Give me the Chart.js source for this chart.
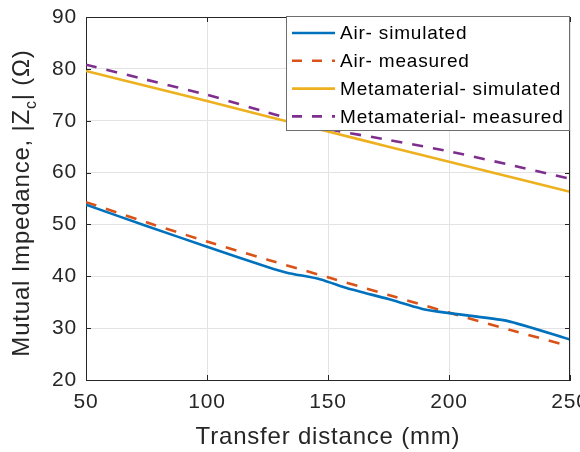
<!DOCTYPE html>
<html>
<head>
<meta charset="utf-8">
<script src="https://cdn.jsdelivr.net/npm/chart.js@4"></script>
<style>
  html, body { margin: 0; padding: 0; background: #fff; }
  #wrap { width: 580px; height: 452px; position: relative; }
</style>
</head>
<body>
<div id="wrap"><canvas id="grafico"></canvas></div>
<script>
// distance (mm) and |Zc| (ohm) per curve
const distAirSim = [50, 75, 100, 125, 133, 147, 158, 175, 190, 200, 224, 250];
const zAirSim = [53.8, 49.7, 45.7, 41.8, 40.7, 39.4, 37.7, 35.6, 33.6, 32.9, 31.4, 27.8];

const distMedido = [50, 75, 100, 125, 150, 175, 200, 225, 250];
const zAirMed = [54.3, 50.4, 46.7, 43.2, 39.8, 36.4, 33.0, 29.7, 26.5];
const zMetaSim = [79.6, 76.7, 73.8, 70.8, 67.9, 65.0, 62.1, 59.2, 56.3];
const zMetaMed = [80.8, 77.9, 75.0, 71.6, 68.4, 66.3, 64.1, 61.5, 58.8];

const legendas = ['Air- simulated', 'Air- measured', 'Metamaterial- simulated', 'Metamaterial- measured'];
const ticksX = [50, 100, 150, 200, 250];
const ticksY = [20, 30, 40, 50, 60, 70, 80, 90];

const fonte = '"Liberation Sans", Arial, sans-serif';
const corTexto = '#262626';

const pontos = (xs, ys) => xs.map((x, i) => ({ x: x, y: ys[i] }));

function serie(rotulo, xs, ys, cor, tracejado) {
  return {
    label: rotulo,
    data: pontos(xs, ys),
    borderColor: cor,
    backgroundColor: cor,
    borderWidth: 2.6,
    borderDash: tracejado ? [11, 10] : [],
    borderCapStyle: 'butt',
    pointRadius: 0,
    tension: 0.2,
    fill: false
  };
}

// slightly looser text spacing for every label on the canvas
const espacamento = {
  id: 'espacamento',
  beforeDraw(chart) { chart.ctx.letterSpacing = '0.8px'; }
};

// frame: top/right borders and inward tick marks on all sides
const moldura = {
  id: 'moldura',
  afterDatasetsDraw(chart) {
    const { ctx, chartArea: a, scales: { x, y } } = chart;
    ctx.save();
    ctx.strokeStyle = corTexto;
    ctx.lineWidth = 1;
    ctx.beginPath();
    ctx.moveTo(a.left, a.top + 0.5); ctx.lineTo(a.right, a.top + 0.5);
    ctx.moveTo(a.right - 0.5, a.top); ctx.lineTo(a.right - 0.5, a.bottom);
    const tam = 5;
    ticksX.forEach(v => {
      const px = Math.round(x.getPixelForValue(v)) + 0.5;
      ctx.moveTo(px, a.bottom); ctx.lineTo(px, a.bottom - tam);
      ctx.moveTo(px, a.top); ctx.lineTo(px, a.top + tam);
    });
    ticksY.forEach(v => {
      const py = Math.round(y.getPixelForValue(v)) + 0.5;
      ctx.moveTo(a.left, py); ctx.lineTo(a.left + tam, py);
      ctx.moveTo(a.right, py); ctx.lineTo(a.right - tam, py);
    });
    ctx.stroke();
    ctx.restore();
  }
};

// y title with subscript c
const tituloY = {
  id: 'tituloY',
  afterDraw(chart) {
    const { ctx } = chart;
    const partes = [
      { t: 'Mutual Impedance, |Z', f: 24, dy: 0 },
      { t: 'c', f: 16, dy: 10 },
      { t: '| (\u03A9)', f: 24, dy: 0 }
    ];
    ctx.save();
    ctx.fillStyle = corTexto;
    ctx.textBaseline = 'middle';
    ctx.textAlign = 'left';
    let total = 0;
    partes.forEach(p => { ctx.font = p.f + 'px ' + fonte; p.w = ctx.measureText(p.t).width; total += p.w; });
    ctx.translate(22, 203);
    ctx.rotate(-Math.PI / 2);
    let cx = -total / 2;
    partes.forEach(p => {
      ctx.font = p.f + 'px ' + fonte;
      ctx.fillText(p.t, cx, p.dy);
      cx += p.w;
    });
    ctx.restore();
  }
};

// boxed legend inside the upper-right corner of the plot
const legendaCaixa = {
  id: 'legendaCaixa',
  afterDraw(chart) {
    const { ctx } = chart;
    const x0 = 286, y0 = 16, x1 = 569, y1 = 130;
    ctx.save();
    ctx.fillStyle = '#fff';
    ctx.fillRect(x0, y0, x1 - x0, y1 - y0);
    ctx.strokeStyle = '#6e6e6e';
    ctx.lineWidth = 1;
    ctx.strokeRect(x0 + 0.5, y0 + 0.5, x1 - x0, y1 - y0);
    ctx.font = '19px ' + fonte;
    ctx.textBaseline = 'middle';
    ctx.fillStyle = '#000';
    chart.data.datasets.forEach((ds, i) => {
      const ly = 33 + i * 27.8;
      ctx.strokeStyle = ds.borderColor;
      ctx.lineWidth = ds.borderWidth;
      ctx.setLineDash(ds.borderDash.length ? [10, 10] : []);
      ctx.beginPath();
      ctx.moveTo(292, ly); ctx.lineTo(335, ly);
      ctx.stroke();
      ctx.setLineDash([]);
      ctx.fillText(legendas[i], 340, ly + 1);
    });
    ctx.restore();
  }
};

new Chart(document.getElementById('grafico').getContext('2d'), {
  type: 'line',
  data: {
    datasets: [
      serie(legendas[0], distAirSim, zAirSim, '#0072BD', false),
      serie(legendas[1], distMedido, zAirMed, '#D95319', true),
      serie(legendas[2], distMedido, zMetaSim, '#EDB120', false),
      serie(legendas[3], distMedido, zMetaMed, '#7E2F8E', true)
    ]
  },
  plugins: [espacamento, moldura, tituloY, legendaCaixa],
  options: {
    responsive: true,
    maintainAspectRatio: false,
    animation: false,
    layout: { padding: { top: 17, right: 10, left: 0, bottom: 0 } },
    plugins: { legend: { display: false }, tooltip: { enabled: false } },
    scales: {
      x: {
        type: 'linear', min: 50, max: 250,
        afterBuildTicks: s => { s.ticks = ticksX.map(v => ({ value: v })); },
        afterFit: s => { s.height = 72; s.paddingLeft = 0; s.paddingRight = 0; },
        grid: { color: '#e3e3e3', drawTicks: false },
        border: { color: corTexto, width: 1 },
        ticks: { color: corTexto, padding: 10, maxRotation: 0, autoSkip: false, font: { family: fonte, size: 21 } },
        title: { display: true, text: 'Transfer distance (mm)', color: corTexto, padding: { top: 0, bottom: 0 }, font: { family: fonte, size: 24 } }
      },
      y: {
        type: 'linear', min: 20, max: 90,
        afterBuildTicks: s => { s.ticks = ticksY.map(v => ({ value: v })); },
        afterFit: s => { s.width = 86; s.paddingTop = 0; s.paddingBottom = 0; },
        grid: { color: '#e3e3e3', drawTicks: false },
        border: { color: corTexto, width: 1 },
        ticks: { color: corTexto, padding: 9, font: { family: fonte, size: 21 } }
      }
    }
  }
});
</script>
</body>
</html>
